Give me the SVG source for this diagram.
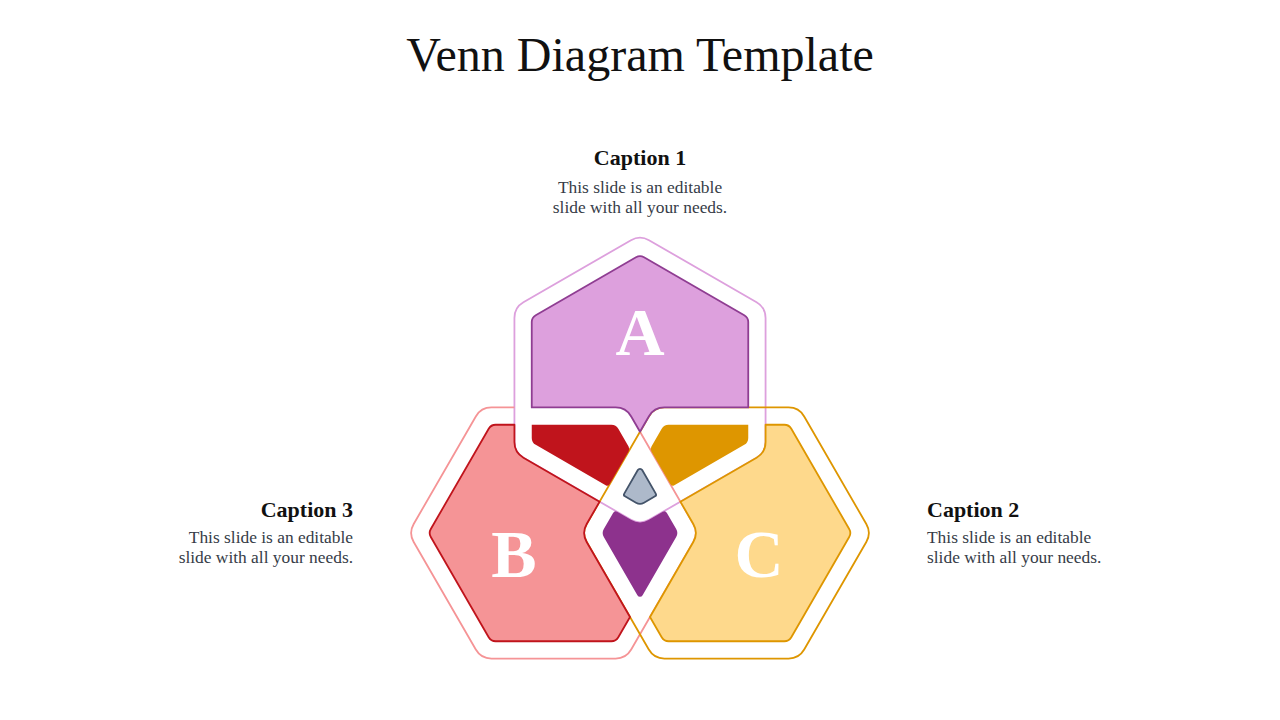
<svg xmlns="http://www.w3.org/2000/svg" xmlns:xlink="http://www.w3.org/1999/xlink" width="1280" height="720" viewBox="0 0 1280 720">
<style>
.title{font-family:"Liberation Serif","Times New Roman",serif;font-size:48px;fill:#111111}
.cap{font-family:"Liberation Serif","Times New Roman",serif;font-size:22px;font-weight:bold;fill:#111111}
.body{font-family:"Liberation Serif","Times New Roman",serif;font-size:17.4px;fill:#363c47}
.letter{font-family:"Liberation Serif","Times New Roman",serif;font-size:68px;font-weight:bold;fill:#ffffff;text-anchor:middle}
.band{fill:#ffffff;stroke:none}
.ln{fill:none;stroke-width:1.8}
</style>
<defs>
<path id="Ao" d="M631,240.2 A18,18 0 0 1 649,240.2 L756.57,302.3 A18,18 0 0 1 765.57,317.89 L765.57,442.11 A18,18 0 0 1 756.57,457.7 L649,519.8 A18,18 0 0 1 631,519.8 L523.43,457.7 A18,18 0 0 1 514.43,442.11 L514.43,317.89 A18,18 0 0 1 523.43,302.3 Z"/>
<path id="Bo" d="M491.39,407.43 L615.61,407.43 A18,18 0 0 1 631.2,416.43 L693.3,524 A18,18 0 0 1 693.3,542 L631.2,649.57 A18,18 0 0 1 615.61,658.57 L491.39,658.57 A18,18 0 0 1 475.8,649.57 L413.7,542 A18,18 0 0 1 413.7,524 L475.8,416.43 A18,18 0 0 1 491.39,407.43 Z"/>
<path id="Co" d="M788.61,407.43 L664.39,407.43 A18,18 0 0 0 648.8,416.43 L586.7,524 A18,18 0 0 0 586.7,542 L648.8,649.57 A18,18 0 0 0 664.39,658.57 L788.61,658.57 A18,18 0 0 0 804.2,649.57 L866.3,542 A18,18 0 0 0 866.3,524 L804.2,416.43 A18,18 0 0 0 788.61,407.43 Z"/>
<mask id="mBo" maskUnits="userSpaceOnUse" x="0" y="0" width="1280" height="720">
<rect x="0" y="0" width="1280" height="720" fill="#ffffff"/>
<use xlink:href="#Ao" href="#Ao" fill="#000000"/>
<use xlink:href="#Co" href="#Co" fill="#ffffff"/>
</mask>
</defs>
<rect x="0" y="0" width="1280" height="720" fill="#ffffff"/>
<text class="title" x="640" y="71" text-anchor="middle">Venn Diagram Template</text>
<g id="venn">
<g id="outer-bands">
<use xlink:href="#Ao" href="#Ao" class="band"/>
<use xlink:href="#Bo" href="#Bo" class="band"/>
<use xlink:href="#Co" href="#Co" class="band"/>
<use xlink:href="#Ao" href="#Ao" class="ln" stroke="#DDA0DD"/>
<use xlink:href="#Bo" href="#Bo" class="ln" stroke="#F59496" mask="url(#mBo)"/>
<use xlink:href="#Co" href="#Co" class="ln" stroke="#DE9600"/>
</g>
<g id="node-A">
<path d="M531.75,407.43 L531.75,322.12 A8,8 0 0 1 535.75,315.19 L636,257.31 A8,8 0 0 1 644,257.31 L744.25,315.19 A8,8 0 0 1 748.25,322.12 L748.25,407.43 L664.39,407.43 A18,18 0 0 0 648.8,416.43 L640,431.68 L631.2,416.43 A18,18 0 0 0 615.61,407.43 Z" fill="#DDA0DD" stroke="#8F3D92" stroke-width="1.8" stroke-linejoin="round"/>
<text class="letter" x="640" y="355">A</text>
</g>
<g id="node-B">
<path d="M514.43,424.75 L495.62,424.75 A8,8 0 0 0 488.69,428.75 L430.81,529 A8,8 0 0 0 430.81,537 L488.69,637.25 A8,8 0 0 0 495.62,641.25 L611.38,641.25 A8,8 0 0 0 618.31,637.25 L630,617 L586.7,542 A18,18 0 0 1 586.7,524 L599.59,501.67 L523.43,457.7 A18,18 0 0 1 514.43,442.11 Z" fill="#F59496" stroke="#C0141C" stroke-width="1.8" stroke-linejoin="round"/>
<text class="letter" x="514" y="577">B</text>
</g>
<g id="node-C">
<path d="M765.57,424.75 L784.38,424.75 A8,8 0 0 1 791.31,428.75 L849.19,529 A8,8 0 0 1 849.19,537 L791.31,637.25 A8,8 0 0 1 784.38,641.25 L668.62,641.25 A8,8 0 0 1 661.69,637.25 L650,617 L693.3,542 A18,18 0 0 0 693.3,524 L680.41,501.67 L756.57,457.7 A18,18 0 0 0 765.57,442.11 Z" fill="#FED98C" stroke="#DE9600" stroke-width="1.8" stroke-linejoin="round"/>
<text class="letter" x="759" y="577">C</text>
</g>
<g id="overlap-AB">
<path d="M531.75,424.75 L611.38,424.75 A8,8 0 0 1 618.31,428.75 L628.56,446.5 A5,5 0 0 1 628.56,451.5 L609.75,484.07 A3,3 0 0 1 605.65,485.17 L535.75,444.81 A8,8 0 0 1 531.75,437.88 Z" fill="#C0141C"/>
</g>
<g id="overlap-AC">
<path d="M748.25,424.75 L668.62,424.75 A8,8 0 0 0 661.69,428.75 L651.44,446.5 A5,5 0 0 0 651.44,451.5 L670.25,484.07 A3,3 0 0 0 674.35,485.17 L744.25,444.81 A8,8 0 0 0 748.25,437.88 Z" fill="#DE9600"/>
</g>
<g id="overlap-BC">
<path d="M617.19,511.83 L631,519.8 A18,18 0 0 0 649,519.8 L662.81,511.83 A3,3 0 0 1 666.91,512.93 L676.19,529 A8,8 0 0 1 676.19,537 L642.6,595.18 A3,3 0 0 1 637.4,595.18 L603.81,537 A8,8 0 0 1 603.81,529 L613.09,512.93 A3,3 0 0 1 617.19,511.83 Z" fill="#8D328D"/>
</g>
<g id="overlap-ABC">
<path d="M637.83,470.07 A2.5,2.5 0 0 1 642.17,470.07 L655.75,493.6 A2,2 0 0 1 655.02,496.33 L644,502.69 A8,8 0 0 1 636,502.69 L624.98,496.33 A2,2 0 0 1 624.25,493.6 Z" fill="#ADB9CA" stroke="#44546A" stroke-width="1.8" stroke-linejoin="round"/>
</g>
</g>
<g id="caption-1">
<text class="cap" x="640" y="165" text-anchor="middle">Caption 1</text>
<text class="body" x="640" y="193" text-anchor="middle">This slide is an editable</text>
<text class="body" x="640" y="213" text-anchor="middle">slide with all your needs.</text>
</g>
<g id="caption-2">
<text class="cap" x="927" y="517">Caption 2</text>
<text class="body" x="927" y="543">This slide is an editable</text>
<text class="body" x="927" y="563">slide with all your needs.</text>
</g>
<g id="caption-3">
<text class="cap" x="353" y="517" text-anchor="end">Caption 3</text>
<text class="body" x="353" y="543" text-anchor="end">This slide is an editable</text>
<text class="body" x="353" y="563" text-anchor="end">slide with all your needs.</text>
</g>
</svg>
